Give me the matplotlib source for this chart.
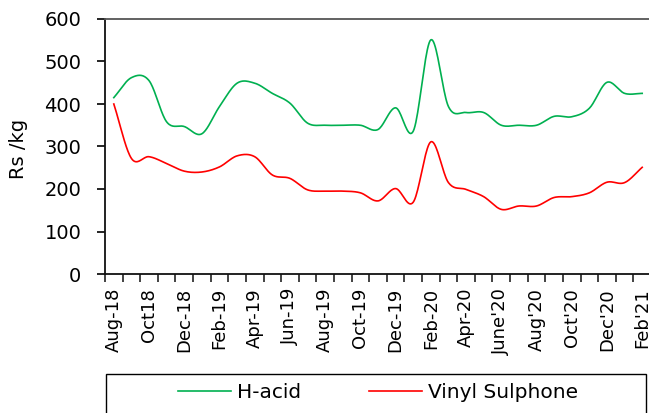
import numpy as np
import matplotlib
matplotlib.use("Agg")
from matplotlib import pyplot as plt
from matplotlib.patches import Rectangle

plt.rcParams['font.family'] = ['DejaVu Sans']

# monthly prices, Aug-18 .. Feb-21
months = ['Aug-18', 'Sep-18', 'Oct18', 'Nov-18', 'Dec-18', 'Jan-19', 'Feb-19', 'Mar-19',
          'Apr-19', 'May-19', 'Jun-19', 'Jul-19', 'Aug-19', 'Sep-19', 'Oct-19', 'Nov-19',
          'Dec-19', 'Jan-20', 'Feb-20', 'Mar-20', 'Apr-20', 'May-20', "June'20", "Jul'20",
          "Aug'20", "Sep'20", "Oct'20", "Nov'20", "Dec'20", "Jan'21", "Feb'21"]
h_acid = [415, 462, 455, 358, 347, 330, 394, 449, 449, 425, 402, 355, 350, 350, 350, 340,
          391, 336, 551, 394, 380, 380, 350, 350, 350, 371, 370, 390, 451, 425, 425]
vinyl_sulphone = [400, 272, 276, 260, 242, 240, 252, 278, 276, 233, 225, 198, 195, 195, 191, 172,
                  201, 169, 311, 215, 199, 182, 152, 160, 160, 180, 182, 191, 216, 215, 251]


def smooth(x, y, n=20):
    # Catmull-Rom through every point, like a spreadsheet "smoothed line"
    x = np.asarray(x, float)
    y = np.asarray(y, float)
    px = np.concatenate([[2 * x[0] - x[1]], x, [2 * x[-1] - x[-2]]])
    py = np.concatenate([[2 * y[0] - y[1]], y, [2 * y[-1] - y[-2]]])
    t = np.linspace(0, 1, n, endpoint=False)
    xs, ys = [], []
    for i in range(1, len(px) - 2):
        for p, out in ((px, xs), (py, ys)):
            p0, p1, p2, p3 = p[i - 1], p[i], p[i + 1], p[i + 2]
            out.append(0.5 * (2 * p1 + (-p0 + p2) * t + (2 * p0 - 5 * p1 + 4 * p2 - p3) * t ** 2
                              + (-p0 + 3 * p1 - 3 * p2 + p3) * t ** 3))
    return np.append(np.concatenate(xs), x[-1]), np.append(np.concatenate(ys), y[-1])


fig = plt.figure(figsize=(6.49, 4.13), dpi=100)
ax = fig.add_axes([105 / 649, 1 - 274 / 413, 546 / 649, 255 / 413])

x = np.arange(len(months))
gx, gy = smooth(x, h_acid)
rx, ry = smooth(x, vinyl_sulphone)
l1, = ax.plot(gx, gy, color='#00B050', lw=1.2, label='H-acid')
l2, = ax.plot(rx, ry, color='#FF0000', lw=1.2, label='Vinyl Sulphone')

ax.set_xlim(-0.5, len(months) - 0.5)
ax.set_ylim(0, 600)
ax.set_yticks(range(0, 601, 100))
ax.set_xticks(x[::2])
ax.set_xticklabels(months[::2], rotation=90, fontsize=13)
ax.set_xticks(np.arange(-0.5, len(months), 1), minor=True)
ax.tick_params(axis='x', which='major', length=0, pad=10)
ax.tick_params(axis='x', which='minor', length=6, width=1.2, color='#222222')
ax.tick_params(axis='y', length=6, width=1.2, labelsize=14, pad=11)

ax.spines['right'].set_visible(False)
ax.spines['top'].set_color('#555555')
for s in ('left', 'bottom', 'top'):
    ax.spines[s].set_linewidth(1.3)
ax.spines['left'].set_color('#111111')
ax.spines['bottom'].set_color('#111111')

ax.set_ylabel('Rs /kg', fontsize=14)
ax.yaxis.set_label_coords(-0.141, 0.49)

# legend box below the chart
fig.patches.append(Rectangle((106 / 649, -0.02), 540 / 649, 1 - 374 / 413 + 0.02,
                             transform=fig.transFigure, fill=False, edgecolor='black', lw=1.0))
fig.legend(handles=[l1, l2], loc='center', bbox_to_anchor=(378 / 649, 1 - 393 / 413), ncol=2,
           frameon=False, fontsize=14.5, handlelength=2.6, handletextpad=0.3, columnspacing=3.4)

fig.savefig('out.png', dpi=100)
